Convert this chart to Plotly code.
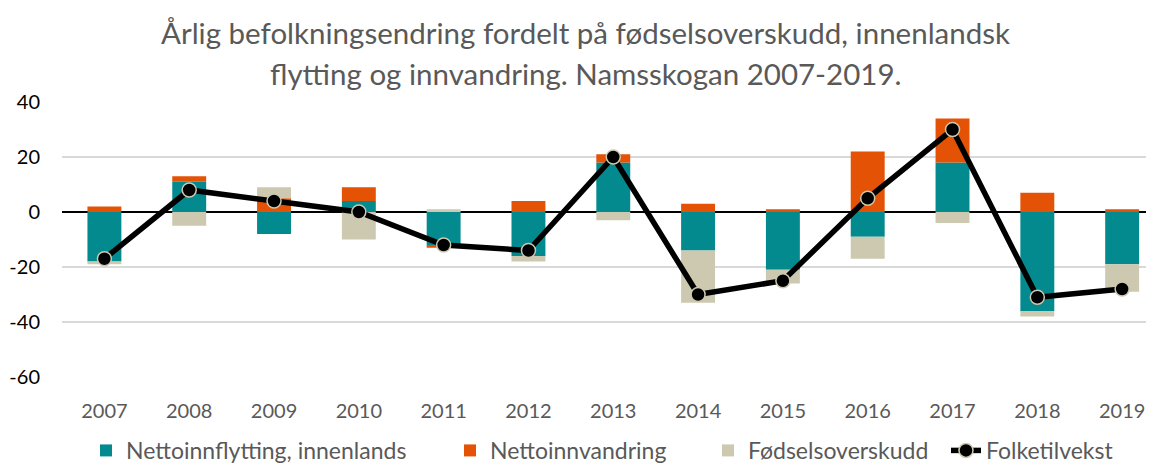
import plotly.graph_objects as go

years = ["2007", "2008", "2009", "2010", "2011", "2012", "2013",
         "2014", "2015", "2016", "2017", "2018", "2019"]
innenlands = [-18, 11, -8, 4, -12, -16, 18, -14, -21, -9, 18, -36, -19]
innvandring = [2, 2, 5, 5, -1, 4, 3, 3, 1, 22, 16, 7, 1]
fodsel = [-1, -5, 4, -10, 1, -2, -3, -19, -5, -8, -4, -2, -10]
folketilvekst = [-17, 8, 4, 0, -12, -14, 20, -30, -25, 5, 30, -31, -28]
y_ticks = [40, 20, 0, -20, -40, -60]
y_ticktext = ["40", "20", "0", "-20", "-40", "-60"]
title_lines = ["Årlig befolkningsendring fordelt på fødselsoverskudd, innenlandsk",
               "flytting og innvandring. Namsskogan 2007-2019."]

FONT = "Lato"
fig = go.Figure()
fig.add_trace(go.Bar(x=years, y=innenlands, name="Nettoinnflytting, innenlands",
                     marker=dict(color="#028A8F", line=dict(width=0)), legend="legend"))
fig.add_trace(go.Bar(x=years, y=innvandring, name="Nettoinnvandring",
                     marker=dict(color="#E35205", line=dict(width=0)), legend="legend2"))
fig.add_trace(go.Bar(x=years, y=fodsel, name="Fødselsoverskudd",
                     marker=dict(color="#CDC9B0", line=dict(width=0)), legend="legend3"))
fig.add_trace(go.Scatter(x=years, y=folketilvekst, name="Folketilvekst",
                         mode="lines+markers", legend="legend4",
                         line=dict(color="black", width=5.5),
                         marker=dict(color="black", size=14,
                                     line=dict(color="#CDC9B0", width=1.5))))

L, T, B, W, H = 54, 94, 93, 1154, 464
PW = W - L
PH = H - T - B


def px_x(p):
    return (p - L) / PW


def px_y(p):
    return (H - B - p) / PH


for txt, yy in zip(title_lines, [24, 65]):
    fig.add_annotation(text=txt, xref="paper", yref="paper", x=px_x(577), y=px_y(yy),
                       xanchor="center", yanchor="middle", showarrow=False,
                       font=dict(family=FONT, size=29.5, color="#595959"))

leg_common = dict(orientation="h", yanchor="middle", y=px_y(445), xanchor="left",
                  font=dict(family=FONT, size=23, color="#595959"),
                  bgcolor="rgba(0,0,0,0)", itemwidth=30)
legend_lefts = [78, 442, 700, 938]

fig.update_layout(
    width=W, height=H,
    margin=dict(l=L, r=0, t=T, b=B),
    paper_bgcolor="white", plot_bgcolor="white",
    barmode="relative", bargap=0.6,
    font=dict(family=FONT, size=20, color="#595959"),
    showlegend=True,
    legend=dict(x=px_x(legend_lefts[0]), **leg_common),
    legend2=dict(x=px_x(legend_lefts[1]), **leg_common),
    legend3=dict(x=px_x(legend_lefts[2]), **leg_common),
    legend4=dict(x=px_x(legend_lefts[3]), **leg_common),
    xaxis=dict(range=[-0.5, 12.47], showgrid=False, showline=False, zeroline=False,
               ticks="", ticklabelstandoff=20, automargin=False,
               tickfont=dict(family=FONT, size=20, color="#595959")),
    yaxis=dict(range=[-60, 40], tickvals=y_ticks, ticktext=y_ticktext,
               showgrid=True, gridcolor="#D9D9D9",
               gridwidth=1.5, zeroline=True, zerolinecolor="black", zerolinewidth=2,
               ticks="", ticklabelstandoff=21, showline=False, automargin=False,
               tickfont=dict(family=FONT, size=20, color="#000000")),
)

fig.write_html("out.html")
